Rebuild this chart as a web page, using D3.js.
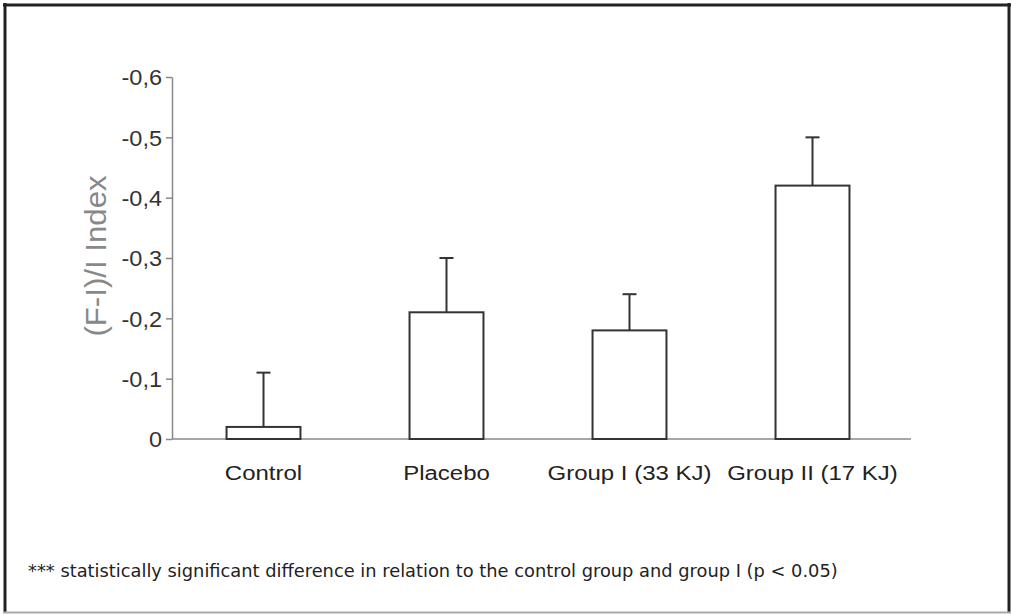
<!DOCTYPE html>
<html>
<head>
<meta charset="utf-8">
<script src="https://cdn.jsdelivr.net/npm/d3@7"></script>
<style>
  html, body { margin: 0; padding: 0; background: #fff; }
  svg { display: block; }
</style>
</head>
<body>
<svg id="chart" width="1012" height="614"></svg>
<script>
// ---- data ----
const categories = ["Control", "Placebo", "Group I (33 KJ)", "Group II (17 KJ)"];
const means = [-0.02, -0.21, -0.18, -0.42];
const errorTops = [-0.11, -0.30, -0.24, -0.50];
const yTicks = [0, -0.1, -0.2, -0.3, -0.4, -0.5, -0.6];
const yTitle = "(F-I)/I Index";
const footnote = "*** statistically significant difference in relation to the control group and group I (p < 0.05)";

const svg = d3.select("#chart");

// frame
svg.append("rect").attr("x", 0).attr("y", 0).attr("width", 1012).attr("height", 614).attr("fill", "#fff");
svg.append("line").attr("x1", 5).attr("x2", 5).attr("y1", 3).attr("y2", 613).attr("stroke", "#222").attr("stroke-width", 3);
svg.append("line").attr("x1", 3).attr("x2", 1011).attr("y1", 5).attr("y2", 5).attr("stroke", "#222").attr("stroke-width", 3);
svg.append("line").attr("x1", 1009).attr("x2", 1009).attr("y1", 3).attr("y2", 613).attr("stroke", "#222").attr("stroke-width", 3);
svg.append("line").attr("x1", 3).attr("x2", 1011).attr("y1", 612.5).attr("y2", 612.5).attr("stroke", "#aaa").attr("stroke-width", 2);

// scales
const x = d3.scaleBand().domain(categories).range([172, 904]).paddingInner(0.596).paddingOuter(0.298);
const y = d3.scaleLinear().domain([0, -0.6]).range([439, 77]);

const loc = d3.formatLocale({decimal: ",", thousands: ".", grouping: [3], currency: ["", ""], minus: "-"});
const f1 = loc.format(".1f");
const fmt = d => d === 0 ? "0" : f1(d);

// y axis
const yAxis = svg.append("g")
  .attr("transform", `translate(${x.range()[0]},0)`)
  .call(d3.axisLeft(y).tickValues(yTicks).tickFormat(fmt).tickSize(6).tickSizeOuter(0));
yAxis.select(".domain").attr("stroke", "#888").attr("stroke-width", 1.5);
yAxis.selectAll(".tick line").attr("stroke", "#888").attr("stroke-width", 1.5);
yAxis.selectAll(".tick text")
  .attr("x", 0).attr("dy", "0.36em")
  .attr("transform", "translate(-10,0) scale(1.12,1.05)")
  .attr("fill", "#333")
  .style("font-family", "'Liberation Sans', Arial, sans-serif")
  .style("font-size", "21px");

// x axis baseline
svg.append("line")
  .attr("x1", x.range()[0]).attr("x2", x.range()[1] + 7)
  .attr("y1", y(0)).attr("y2", y(0))
  .attr("stroke", "#888").attr("stroke-width", 1.5);

// x labels
const xAxis = svg.append("g")
  .attr("transform", `translate(0,${y(0)})`)
  .call(d3.axisBottom(x).tickSize(0));
xAxis.select(".domain").remove();
xAxis.selectAll(".tick text")
  .attr("y", 0).attr("dy", 0)
  .attr("transform", "translate(0,41) scale(1.2,1.05)")
  .attr("fill", "#222")
  .style("font-family", "'Liberation Sans', Arial, sans-serif")
  .style("font-size", "20px");

// bars
const bw = x.bandwidth();
const data = categories.map((c, i) => ({c, m: means[i], e: errorTops[i]}));

svg.append("g").selectAll("line.err").data(data).join("line")
  .attr("x1", d => x(d.c) + bw / 2).attr("x2", d => x(d.c) + bw / 2)
  .attr("y1", d => y(d.m)).attr("y2", d => y(d.e))
  .attr("stroke", "#333").attr("stroke-width", 2);
svg.append("g").selectAll("line.cap").data(data).join("line")
  .attr("x1", d => x(d.c) + bw / 2 - 7).attr("x2", d => x(d.c) + bw / 2 + 7)
  .attr("y1", d => y(d.e)).attr("y2", d => y(d.e))
  .attr("stroke", "#333").attr("stroke-width", 2);

svg.append("g").selectAll("rect").data(data).join("rect")
  .attr("x", d => x(d.c)).attr("width", bw)
  .attr("y", d => y(d.m)).attr("height", d => y(0) - y(d.m))
  .attr("fill", "#fff").attr("stroke", "#333").attr("stroke-width", 2);

// y title
svg.append("text")
  .attr("transform", "translate(106,256) rotate(-90) scale(1.2,1.15)")
  .attr("text-anchor", "middle")
  .attr("fill", "#888")
  .style("font-family", "'Liberation Sans', Arial, sans-serif")
  .style("font-size", "26px")
  .text(yTitle);

// footnote
const fn = svg.append("text")
  .attr("x", 0).attr("y", 0)
  .attr("fill", "#222")
  .style("font-family", "'DejaVu Sans', sans-serif")
  .style("font-size", "15px")
  .text(footnote);
const len = fn.node().getComputedTextLength();
fn.attr("transform", `translate(28,577) scale(${810 / len},1.2)`);
</script>
</body>
</html>
